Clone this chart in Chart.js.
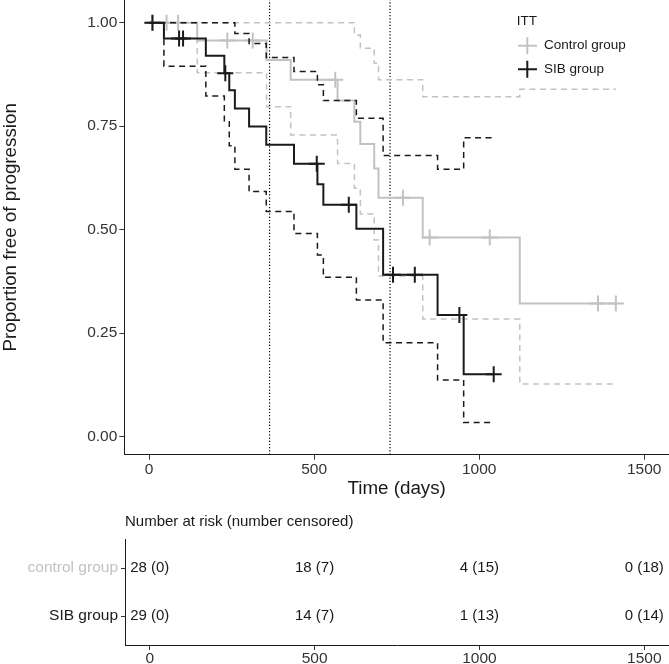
<!DOCTYPE html>
<html>
<head>
<meta charset="utf-8">
<script src="https://cdn.jsdelivr.net/npm/chart.js@4.4.0/dist/chart.umd.min.js"></script>
<style>
html,body{margin:0;padding:0;background:#fff;}
#wrap{position:relative;width:669px;height:664px;overflow:hidden;}
#kmChart{position:absolute;left:0;top:0;}
#riskChart{position:absolute;left:0;top:500px;}
</style>
</head>
<body>
<div id="wrap">
  <canvas id="kmChart" width="669" height="500"></canvas>
  <canvas id="riskChart" width="669" height="164"></canvas>
</div>
<script>
// ---------- DATA ----------
const X_TICKS = [0, 500, 1000, 1500];
const Y_TICKS = [0, 0.25, 0.5, 0.75, 1];
const VLINES = [365, 730];

// control group KM curve
const CTRL_T = [0, 146, 356, 429, 571, 622, 640, 682, 695, 829, 1123, 1414];
const CTRL_S = [1, 0.957, 0.910, 0.862, 0.812, 0.761, 0.707, 0.648, 0.577, 0.481, 0.322, 0.322];
const CTRL_UP_T = [0, 622, 640, 682, 695, 829, 1123, 1414];
const CTRL_UP_S = [1, 0.970, 0.938, 0.902, 0.862, 0.821, 0.839, 0.839];
const CTRL_LO_T = [0, 146, 356, 429, 571, 622, 640, 682, 695, 829, 1123, 1414];
const CTRL_LO_S = [1, 0.879, 0.797, 0.729, 0.660, 0.600, 0.538, 0.475, 0.388, 0.284, 0.127, 0.127];
const CTRL_CENS_T = [12, 53, 88, 237, 314, 564, 769, 850, 1032, 1360, 1414];
const CTRL_CENS_S = [1, 1, 1, 0.957, 0.957, 0.862, 0.577, 0.481, 0.481, 0.322, 0.322];

// SIB group KM curve
const SIB_T = [0, 45, 172, 228, 243, 260, 303, 355, 439, 510, 528, 628, 709, 874, 953, 1044];
const SIB_S = [1, 0.962, 0.920, 0.878, 0.837, 0.793, 0.749, 0.705, 0.659, 0.610, 0.560, 0.502, 0.391, 0.294, 0.151, 0.151];
const SIB_UP_T = [0, 260, 303, 355, 439, 510, 528, 628, 709, 874, 953, 1044];
const SIB_UP_S = [1, 0.974, 0.950, 0.916, 0.882, 0.850, 0.812, 0.769, 0.679, 0.646, 0.722, 0.722];
const SIB_LO_T = [0, 45, 172, 228, 243, 260, 303, 355, 439, 510, 528, 628, 709, 874, 953, 1044];
const SIB_LO_S = [1, 0.895, 0.823, 0.761, 0.703, 0.646, 0.592, 0.544, 0.491, 0.439, 0.385, 0.330, 0.227, 0.137, 0.034, 0.034];
const SIB_CENS_T = [10, 91, 103, 231, 508, 605, 739, 805, 940, 1044];
const SIB_CENS_S = [1, 0.962, 0.962, 0.878, 0.659, 0.560, 0.391, 0.391, 0.294, 0.151];

// risk table
const RISK_TIMES = [0, 500, 1000, 1500];
const RISK_GROUPS = ['SIB group', 'control group'];
const SIB_RISK = ['29 (0)', '14 (7)', '1 (13)', '0 (14)'];
const CTRL_RISK = ['28 (0)', '18 (7)', '4 (15)', '0 (18)'];

// ---------- STYLE ----------
const FONT = '"Liberation Sans", Arial, Helvetica, sans-serif';
const BLACK = '#1a1a1a';
const GREY = '#c2c2c2';
const TICK_COL = '#333';
const X_MIN = -75, X_MAX = 1575;
const Y_MIN = -0.0435, Y_MAX = 1.0548;

const pts = (ts, ss) => ts.map((t, i) => ({x: t, y: ss[i]}));

function stepLine(label, ts, ss, color, width, dash, order) {
  return { label, data: pts(ts, ss), borderColor: color, borderWidth: width, borderDash: dash,
           stepped: true, pointRadius: 0, fill: false, order };
}
function censors(label, ts, ss, color, order) {
  return { label, data: pts(ts, ss), showLine: false, pointStyle: 'cross', pointRadius: 8,
           pointBorderWidth: 2, borderColor: color, pointBorderColor: color, order };
}
function noPad(s) {
  s.paddingTop = 0; s.paddingBottom = 0; s.paddingLeft = 0; s.paddingRight = 0;
}
function axisX(h, pad) {
  return {
    type: 'linear', min: X_MIN, max: X_MAX,
    afterBuildTicks: s => { s.ticks = X_TICKS.map(v => ({value: v})); },
    afterFit: s => { s.height = h; noPad(s); },
    grid: {display: true, drawOnChartArea: false, drawTicks: true, tickLength: 5, color: '#333', lineWidth: 1},
    border: {display: true, color: BLACK, width: 1},
    ticks: {font: {family: FONT, size: 15.5}, color: TICK_COL, padding: pad, maxRotation: 0, callback: v => String(v)}
  };
}

// legend inside the panel
const kmLegend = {
  id: 'kmLegend',
  afterDraw(chart) {
    const ctx = chart.ctx;
    ctx.save();
    ctx.font = '13.5px ' + FONT;
    ctx.fillStyle = BLACK;
    ctx.textBaseline = 'middle';
    ctx.fillText('ITT', 516.7, 21);
    [[GREY, 'Control group', 45.7], [BLACK, 'SIB group', 69.3]].forEach(([c, txt, y]) => {
      ctx.strokeStyle = c; ctx.lineWidth = 2;
      ctx.beginPath();
      ctx.moveTo(518, y); ctx.lineTo(537, y);
      ctx.moveTo(527.3, y - 8.5); ctx.lineTo(527.3, y + 8.5);
      ctx.stroke();
      ctx.fillStyle = BLACK;
      ctx.fillText(txt, 544, y);
    });
    ctx.restore();
  }
};

// ---------- MAIN KM CHART ----------
const vlines = VLINES.map((v, i) => ({
  label: 'v' + i, data: [{x: v, y: Y_MIN}, {x: v, y: Y_MAX}], borderColor: '#000', borderWidth: 1.2,
  borderDash: [1.2, 2], pointRadius: 0, fill: false, order: 20
}));

new Chart(document.getElementById('kmChart'), {
  type: 'line',
  data: {
    datasets: [
      stepLine('SIB', SIB_T, SIB_S, BLACK, 2, [], 1),
      censors('SIB cens', SIB_CENS_T, SIB_CENS_S, BLACK, 2),
      stepLine('SIB up', SIB_UP_T, SIB_UP_S, BLACK, 1.5, [6, 4.5], 3),
      stepLine('SIB lo', SIB_LO_T, SIB_LO_S, BLACK, 1.5, [6, 4.5], 4),
      censors('Ctrl cens', CTRL_CENS_T, CTRL_CENS_S, GREY, 5),
      stepLine('Ctrl', CTRL_T, CTRL_S, GREY, 2, [], 6),
      stepLine('Ctrl up', CTRL_UP_T, CTRL_UP_S, GREY, 1.5, [6, 4.5], 7),
      stepLine('Ctrl lo', CTRL_LO_T, CTRL_LO_S, GREY, 1.5, [6, 4.5], 8),
      ...vlines
    ]
  },
  options: {
    responsive: false, animation: false, events: [],
    layout: {padding: 0, autoPadding: false},
    plugins: {legend: {display: false}, tooltip: {enabled: false}},
    scales: {
      x: Object.assign(axisX(45.3, 1), {
        title: {display: true, text: 'Time (days)', font: {family: FONT, size: 18.8}, color: BLACK, padding: 0}
      }),
      y: {
        type: 'linear', min: Y_MIN, max: Y_MAX,
        afterBuildTicks: s => { s.ticks = Y_TICKS.map(v => ({value: v})); },
        afterFit: s => { s.width = 124.3; noPad(s); },
        grid: {display: true, drawOnChartArea: false, drawTicks: true, tickLength: 5, color: '#333', lineWidth: 1},
        border: {display: true, color: BLACK, width: 1},
        ticks: {font: {family: FONT, size: 15.5}, color: TICK_COL, padding: 2, callback: v => v.toFixed(2)},
        title: {display: true, text: 'Proportion free of progression', font: {family: FONT, size: 18.8}, color: BLACK, padding: 0}
      }
    }
  },
  plugins: [kmLegend]
});

// ---------- RISK TABLE ----------
const riskText = {
  id: 'riskText',
  afterDraw(chart) {
    const {ctx, scales: {x, y}, chartArea} = chart;
    ctx.save();
    ctx.font = '15px ' + FONT;
    ctx.fillStyle = BLACK;
    ctx.textBaseline = 'middle';
    ctx.textAlign = 'left';
    ctx.fillText('Number at risk (number censored)', chartArea.left, 21.7);
    ctx.textAlign = 'center';
    [[SIB_RISK, 1], [CTRL_RISK, 2]].forEach(([row, pos]) => {
      row.forEach((txt, i) => ctx.fillText(txt, x.getPixelForValue(RISK_TIMES[i]), y.getPixelForValue(pos)));
    });
    ctx.restore();
  }
};

new Chart(document.getElementById('riskChart'), {
  type: 'line',
  data: {datasets: []},
  options: {
    responsive: false, animation: false, events: [],
    layout: {padding: {top: 39.3, left: 0, right: 0, bottom: 0}, autoPadding: false},
    plugins: {legend: {display: false}, tooltip: {enabled: false}},
    scales: {
      x: axisX(19, -1),
      y: {
        type: 'linear', min: 0.4, max: 2.6,
        afterBuildTicks: s => { s.ticks = [{value: 1}, {value: 2}]; },
        afterFit: s => { s.width = 125; noPad(s); },
        grid: {display: true, drawOnChartArea: false, drawTicks: true, tickLength: 4, color: '#333', lineWidth: 1},
        border: {display: true, color: BLACK, width: 1},
        ticks: {
          font: {family: FONT, size: 15.5}, padding: 3,
          color: c => (c.tick && c.tick.value === 2) ? GREY : BLACK,
          callback: v => RISK_GROUPS[v - 1]
        }
      }
    }
  },
  plugins: [riskText]
});
</script>
</body>
</html>
